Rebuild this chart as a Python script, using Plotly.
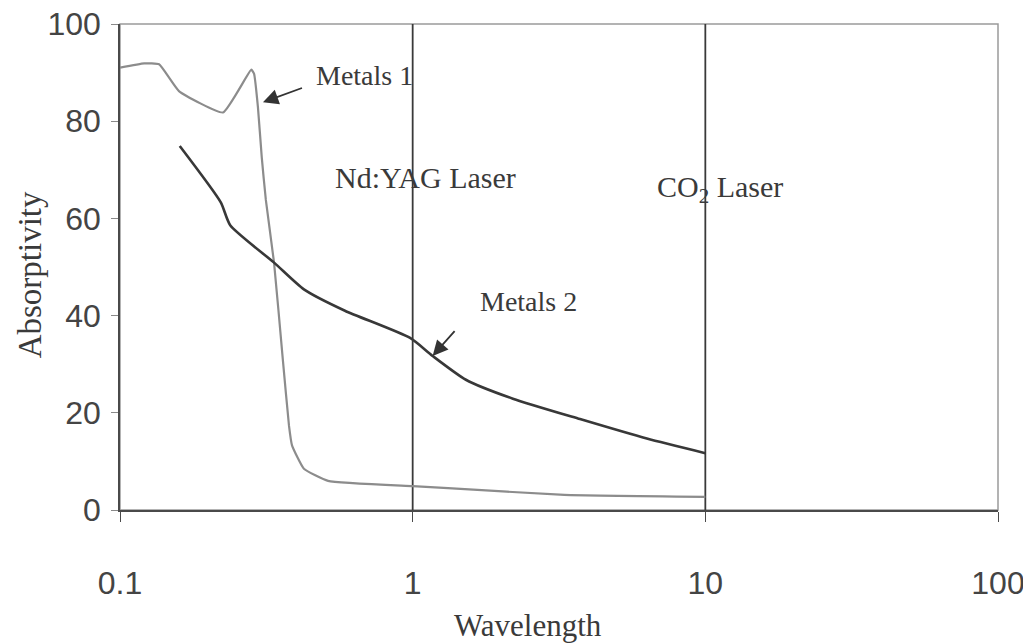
import numpy as np
import plotly.graph_objects as go

# ---- data ----
metals1_wavelength = [0.10, 0.121, 0.136, 0.159, 0.225, 0.281, 0.287, 0.296, 0.305, 0.315,
                      0.336, 0.360, 0.378, 0.387, 0.425, 0.514, 1.0, 1.32, 3.3, 10.0]
metals1_absorptivity = [91.0, 91.9, 91.7, 86.2, 81.8, 90.6, 89.8, 82.9, 72.6, 63.8,
                        50.9, 31.0, 17.3, 13.3, 8.5, 6.0, 4.9, 4.5, 3.1, 2.7]

metals2_wavelength = [0.160, 0.221, 0.238, 0.336, 0.425, 0.587, 0.98, 1.17, 1.52, 2.20, 3.73, 6.31, 10.0]
metals2_absorptivity = [74.9, 63.3, 58.6, 50.9, 45.4, 41.0, 35.4, 31.7, 26.8, 22.9, 18.7, 14.7, 11.7]

laser_wavelengths = [1, 10]
laser_labels = ["Nd:YAG Laser", "CO<sub>2</sub> Laser"]
laser_label_pos = [(0.535, 68.5), (6.73, 66.0)]

x_tickvals = [0.1, 1, 10, 100]
x_ticktext = ["0.1", "1", "10", "100"]
y_tickvals = [0, 20, 40, 60, 80, 100]

fig = go.Figure()

for xv in laser_wavelengths:
    fig.add_trace(go.Scatter(x=[xv, xv], y=[0, 100], mode="lines",
                             line=dict(color="#3a3a3a", width=1.8),
                             showlegend=False, hoverinfo="skip"))

fig.add_trace(go.Scatter(x=metals1_wavelength, y=metals1_absorptivity, mode="lines",
                         name="Metals 1",
                         line=dict(color="#8c8c8c", width=2.2, shape="spline", smoothing=0.4),
                         showlegend=False))
fig.add_trace(go.Scatter(x=metals2_wavelength, y=metals2_absorptivity, mode="lines",
                         name="Metals 2",
                         line=dict(color="#383838", width=2.6, shape="spline", smoothing=0.6),
                         showlegend=False))

serif = "Liberation Serif, Times New Roman, serif"
sans = "Liberation Sans, Arial, sans-serif"
txt_col = "#3a3a3a"

annotations = []
annotations.append(dict(x=np.log10(0.461), y=89.4, xref="x", yref="y", text="Metals 1",
                        showarrow=False, xanchor="left", yanchor="middle",
                        font=dict(family=serif, size=28, color=txt_col)))
annotations.append(dict(x=np.log10(0.308), y=83.9, xref="x", yref="y", text=" ",
                        showarrow=True, ax=41, ay=-15, arrowhead=2, arrowsize=1.7,
                        arrowwidth=1.8, arrowcolor="#333333", font=dict(size=2)))
annotations.append(dict(x=np.log10(1.67), y=42.9, xref="x", yref="y", text="Metals 2",
                        showarrow=False, xanchor="left", yanchor="middle",
                        font=dict(family=serif, size=28, color=txt_col)))
annotations.append(dict(x=np.log10(1.17), y=31.7, xref="x", yref="y", text=" ",
                        showarrow=True, ax=24, ay=-27, arrowhead=2, arrowsize=1.7,
                        arrowwidth=1.8, arrowcolor="#333333", font=dict(size=2)))
for lab, (lx, ly) in zip(laser_labels, laser_label_pos):
    annotations.append(dict(x=np.log10(lx), y=ly, xref="x", yref="y", text=lab,
                            showarrow=False, xanchor="left", yanchor="middle",
                            font=dict(family=serif, size=30, color=txt_col)))
annotations.append(dict(x=0.465, y=-0.237, xref="paper", yref="paper", text="Wavelength",
                        showarrow=False, xanchor="center", yanchor="middle",
                        font=dict(family=serif, size=31, color=txt_col)))
annotations.append(dict(x=-0.103, y=0.484, xref="paper", yref="paper", text="Absorptivity",
                        showarrow=False, xanchor="center", yanchor="middle", textangle=-90,
                        font=dict(family=serif, size=33, color=txt_col)))

# The page body adds an 8px offset, so the figure is 8px smaller than the window.
fig.update_layout(
    width=1023, height=636,
    margin=dict(l=112, r=33, t=16, b=134, autoexpand=False),
    paper_bgcolor="white", plot_bgcolor="white",
    annotations=annotations,
    shapes=[dict(type="rect", xref="paper", yref="paper", x0=0, y0=0, x1=1, y1=1,
                 line=dict(color="#9a9a9a", width=1.5), layer="below")],
    xaxis=dict(type="log", range=[-1, 2], tickvals=x_tickvals, ticktext=x_ticktext,
               automargin=False, ticklabeloverflow="allow",
               showgrid=False, zeroline=False, showline=True, linecolor="#4a4a4a", linewidth=1.6,
               ticks="outside", ticklen=10, tickcolor="#4a4a4a", tickwidth=1.2,
               ticklabelstandoff=34,
               tickfont=dict(family=sans, size=32, color="#444444")),
    yaxis=dict(range=[0, 100], tickvals=y_tickvals, showgrid=False, zeroline=False,
               automargin=False, ticklabeloverflow="allow",
               showline=True, linecolor="#4a4a4a", linewidth=1.6,
               ticks="outside", ticklen=7, tickcolor="#8a8a8a", tickwidth=1.2,
               ticklabelstandoff=4,
               tickfont=dict(family=sans, size=32, color="#444444")),
)

fig.write_html("out.html")
